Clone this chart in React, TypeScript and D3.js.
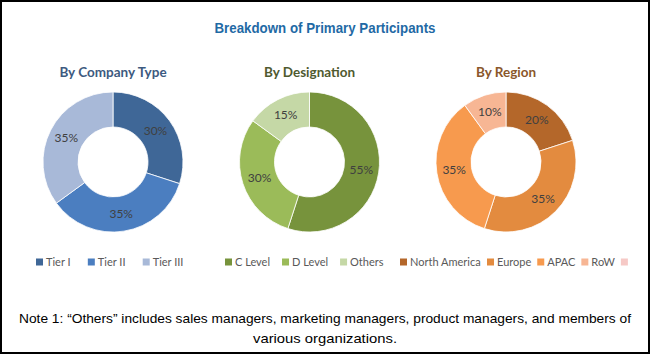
import { useMemo } from "react";
import * as d3 from "d3";

const WIDTH = 650;
const HEIGHT = 354;

const CHART_TITLE = "Breakdown of Primary Participants";
const NOTE_LINES = [
  "Note 1: \u201COthers\u201D includes sales managers, marketing managers, product managers, and members of",
  "various organizations.",
];

// by company type
const companyTitle = "By Company Type";
const companyLabels = ["Tier I", "Tier II", "Tier III"];
const companyValues = [30, 35, 35];
const companyColors = ["#3f6797", "#4b7ec0", "#a8b9d8"];

// by designation
const designationTitle = "By Designation";
const designationLabels = ["C Level", "D Level", "Others"];
const designationValues = [55, 30, 15];
const designationColors = ["#77933c", "#9bbb59", "#c5d8a6"];

// by region (the last legend entry has no label in the source)
const regionTitle = "By Region";
const regionLabels = ["North America", "Europe", "APAC", "RoW", ""];
const regionValues = [20, 35, 35, 10, 0];
const regionColors = ["#b4672a", "#e38b3f", "#f79a4e", "#f7b694", "#f6c9c6"];

const donuts = [
  { title: companyTitle, labels: companyLabels, values: companyValues, colors: companyColors, titleColor: "#3d5a80", legendStart: 36, legendGap: 17 },
  { title: designationTitle, labels: designationLabels, values: designationValues, colors: designationColors, titleColor: "#4f5a2f", legendStart: 225, legendGap: 12 },
  { title: regionTitle, labels: regionLabels, values: regionValues, colors: regionColors, titleColor: "#8a572a", legendStart: 400, legendGap: 6 },
];

const LEGEND_FONT = "11px Lato";
const NARROW = "'Liberation Sans', Arial, sans-serif";

let measureCtx = null;
function textWidth(text, font) {
  if (!measureCtx) measureCtx = document.createElement("canvas").getContext("2d");
  measureCtx.font = font;
  return measureCtx.measureText(text).width;
}

function Donut({ cx, spec }) {
  const cy = 162;
  const outer = 70;
  const inner = 35;

  const arcs = useMemo(() => {
    const pie = d3.pie().sort(null).value((d) => d.value);
    return pie(spec.values.map((v, i) => ({ value: v, i })));
  }, [spec]);

  const arc = d3.arc().innerRadius(inner).outerRadius(outer);

  // legend layout from measured label widths
  const box = 7;
  const gap = 3;
  let x0 = spec.legendStart;
  const legendX = spec.labels.map((l) => {
    const x = x0;
    x0 += box + gap + (l ? textWidth(l, LEGEND_FONT) : 0) + spec.legendGap;
    return x;
  });

  const shown = arcs.filter((a) => a.data.value > 0);

  return (
    <g>
      <text
        x={cx}
        y={77}
        textAnchor="middle"
        fontFamily="Lato, 'Open Sans', sans-serif"
        fontWeight="bold"
        fontSize={13.5}
        fill={spec.titleColor}
      >
        {spec.title}
      </text>
      <g transform={`translate(${cx},${cy})`}>
        {shown.map((a) => (
          <path key={a.data.i} d={arc(a)} fill={spec.colors[a.data.i]} stroke="#fff" strokeWidth={0.8} />
        ))}
        {shown.map((a) => {
          const [lx, ly] = arc.centroid(a);
          return (
            <text
              key={a.data.i}
              x={lx}
              y={ly}
              dy="0.35em"
              textAnchor="middle"
              fontFamily="Lato, sans-serif"
              fontSize={12}
              fill="#404040"
            >
              {a.data.value}%
            </text>
          );
        })}
      </g>
      <g transform="translate(0,262)">
        {spec.labels.map((l, i) => (
          <g key={i} transform={`translate(${legendX[i]},0)`}>
            <rect x={0} y={-box / 2} width={box} height={box} fill={spec.colors[i]} />
            <text
              x={box + gap}
              dy="0.35em"
              fontFamily="Lato, sans-serif"
              fontSize={11}
              fill="#595959"
            >
              {l}
            </text>
          </g>
        ))}
      </g>
    </g>
  );
}

export default function App() {
  const xScale = d3.scalePoint().domain(donuts.map((d) => d.title)).range([113, 506]);

  return (
    <svg
      width={WIDTH}
      height={HEIGHT}
      style={{ position: "absolute", left: 0, top: 0, background: "#fff" }}
    >
      <rect x={1} y={1} width={WIDTH - 2} height={HEIGHT - 2} fill="#fff" stroke="#000" strokeWidth={2} />
      <text
        x={WIDTH / 2}
        y={33}
        textAnchor="middle"
        fontFamily={NARROW}
        fontWeight="bold"
        fontSize={14}
        fill="#1f6aa5"
        textLength={221}
        lengthAdjust="spacingAndGlyphs"
      >
        {CHART_TITLE}
      </text>
      {donuts.map((d) => (
        <Donut key={d.title} cx={xScale(d.title)} spec={d} />
      ))}
      {NOTE_LINES.map((line, i) => (
        <text
          key={i}
          x={WIDTH / 2}
          y={323 + i * 20}
          textAnchor="middle"
          fontFamily={NARROW}
          fontSize={13.5}
          fill="#000"
          textLength={i === 0 ? 612 : 144}
          lengthAdjust="spacingAndGlyphs"
        >
          {line}
        </text>
      ))}
    </svg>
  );
}
